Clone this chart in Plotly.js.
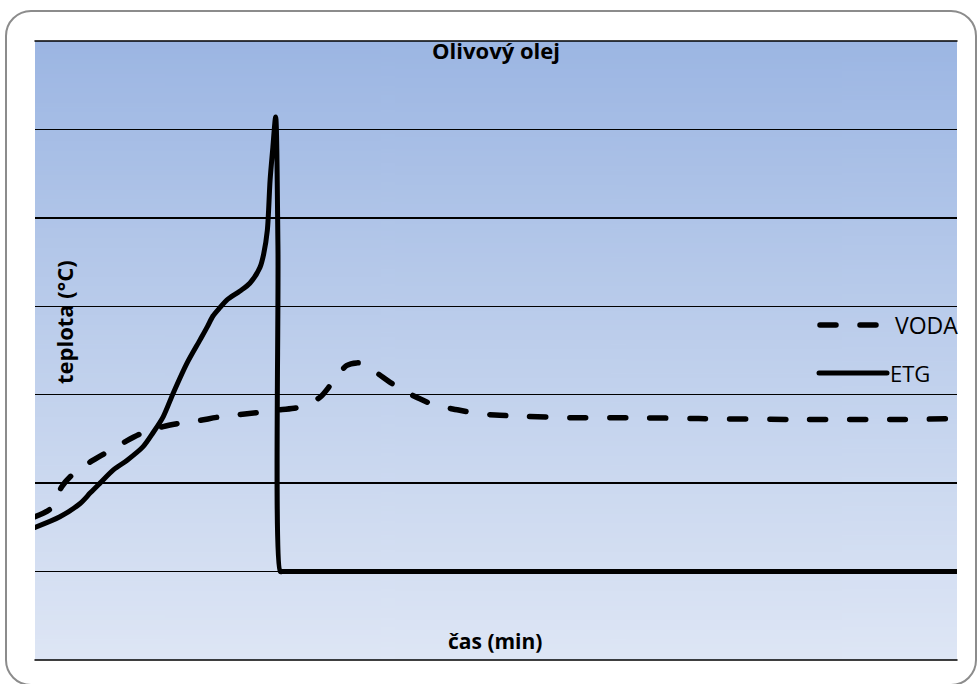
<!DOCTYPE html>
<html>
<head>
<meta charset="utf-8">
<script src="https://cdn.plot.ly/plotly-3.0.1.min.js"></script>
<style>
html,body{margin:0;padding:0;background:#fff;overflow:hidden;}
#wrap{position:relative;width:977px;height:684px;overflow:hidden;}
#frame{position:absolute;left:5px;top:10px;width:972px;height:676px;border:2px solid #8c8c8c;border-radius:26px;box-sizing:border-box;pointer-events:none;z-index:2;}
#chart{position:absolute;left:0;top:0;width:977px;height:684px;z-index:1;}
.scatterlayer path.js-line, .shapelayer path{stroke-linecap:round;stroke-linejoin:round;}
</style>
</head>
<body>
<div id="wrap"><div id="chart"></div><div id="frame"></div></div>
<script>
// ---- data (x: time in arbitrary units 0-100, y: temperature scale 0-70) ----
const chartTitle = "Olivový olej";
const xTitle = "čas (min)";
const yTitle = "teplota (°C)";
const seriesNames = ["VODA", "ETG"];

const vodaX = [0, 1.8, 2.9, 4.0, 6.0, 7.8, 9.8, 11.7, 13.9, 15.9, 17.9, 20.1, 24.4, 26.6, 28.7, 30.9, 32.2, 33.8, 34.9, 35.6, 37.7, 39.4, 41.6, 43.4, 45.8, 47.8, 49.9, 52.1, 58.3, 65.0, 72.0, 83.0, 93.8, 100];
const vodaY = [16.2, 17.2, 19.6, 20.9, 22.4, 23.5, 24.7, 25.7, 26.4, 26.8, 27.1, 27.5, 28.0, 28.3, 28.6, 29.7, 31.3, 33.3, 33.6, 33.5, 32.0, 30.8, 29.6, 28.8, 28.3, 27.9, 27.7, 27.6, 27.4, 27.4, 27.3, 27.2, 27.2, 27.3];

const etgX = [0, 2.7, 4.9, 6.0, 7.05, 8.5, 10.0, 11.7, 12.8, 13.9, 15.0, 16.5, 17.9, 18.7, 19.3, 20.1, 20.8, 22.2, 23.3, 24.4, 24.8, 25.2, 25.5, 25.8, 26.1, 26.35, 26.6, 26.8, 100];
const etgY = [15.0, 16.2, 17.7, 18.9, 20.0, 21.5, 22.6, 24.1, 25.7, 27.5, 30.2, 33.6, 36.2, 37.7, 38.9, 39.9, 40.7, 41.7, 42.6, 44.4, 45.9, 48.6, 54.3, 58.0, 61.4, 46.7, 10.0, 10.0, 10.0];

const yRange = [0, 70];
const xRange = [0, 100];

// ---- gradient background image ----
const cv = document.createElement('canvas');
cv.width = 4; cv.height = 256;
const ctx = cv.getContext('2d');
const g = ctx.createLinearGradient(0, 0, 0, 256);
g.addColorStop(0, 'rgb(156,182,227)');
g.addColorStop(0.5, 'rgb(190,207,236)');
g.addColorStop(1, 'rgb(222,230,245)');
ctx.fillStyle = g; ctx.fillRect(0, 0, 4, 256);
const bgURL = cv.toDataURL('image/png');

// plot area in pixels: left 35, right 957, top 41, bottom 660
const L = 35, R = 957, T = 41, B = 660;
const px = v => (v - L) / (R - L);
const py = v => (B - v) / (B - T);

const font = "'Open Sans', 'DejaVu Sans', sans-serif";

const traces = [
  {x: vodaX, y: vodaY, name: seriesNames[0], type: 'scatter', mode: 'lines',
   line: {color: '#000', width: 5.5, dash: '16px,24px', shape: 'spline', smoothing: 0.8}, showlegend: false, hoverinfo: 'skip'},
  {x: etgX, y: etgY, name: seriesNames[1], type: 'scatter', mode: 'lines',
   line: {color: '#000', width: 5, shape: 'spline', smoothing: 0.8}, showlegend: false, hoverinfo: 'skip'}
];

const layout = {
  width: 977, height: 684,
  margin: {l: L, r: 977 - R, t: T, b: 684 - B, pad: 0},
  paper_bgcolor: 'rgba(0,0,0,0)',
  plot_bgcolor: 'rgba(0,0,0,0)',
  title: {text: '<b>' + chartTitle + '</b>', font: {family: font, size: 22, color: '#000'},
          x: px(496), xref: 'paper', y: 1 - 51/684, yref: 'container', yanchor: 'middle', xanchor: 'center'},
  xaxis: {range: xRange, showgrid: false, zeroline: false, showline: false, showticklabels: false, ticks: ''},
  yaxis: {range: yRange, dtick: 10, tick0: 0, showgrid: true, gridcolor: '#000', gridwidth: 1.5,
          zeroline: false, showline: false, showticklabels: false, ticks: ''},
  images: [{source: bgURL, xref: 'paper', yref: 'paper', x: 0, y: 1, sizex: 1, sizey: 1,
            sizing: 'stretch', xanchor: 'left', yanchor: 'top', layer: 'below'}],
  shapes: [
    {type: 'line', xref: 'paper', yref: 'paper', x0: 0, x1: 1, y0: 1, y1: 1, line: {color: '#000', width: 1.5}},
    {type: 'line', xref: 'paper', yref: 'paper', x0: 0, x1: 1, y0: 0, y1: 0, line: {color: '#000', width: 1.5}},
    // legend samples
    {type: 'line', xref: 'paper', yref: 'paper', x0: px(820), x1: px(879), y0: py(325), y1: py(325),
     line: {color: '#000', width: 5.5, dash: '16px,24px'}},
    {type: 'line', xref: 'paper', yref: 'paper', x0: px(819), x1: px(887), y0: py(373), y1: py(373),
     line: {color: '#000', width: 5}}
  ],
  annotations: [
    {text: '<b>' + xTitle + '</b>', xref: 'paper', yref: 'paper', x: px(495), y: py(641), showarrow: false,
     xanchor: 'center', yanchor: 'middle', font: {family: font, size: 21, color: '#000'}},
    {text: '<b>' + yTitle + '</b>', xref: 'paper', yref: 'paper', x: px(64), y: py(322), showarrow: false,
     textangle: -90, xanchor: 'center', yanchor: 'middle', font: {family: font, size: 22, color: '#000'}},
    {text: seriesNames[0], xref: 'paper', yref: 'paper', x: px(893), y: py(325), showarrow: false,
     xanchor: 'left', yanchor: 'middle', font: {family: font, size: 23, color: '#000'}},
    {text: seriesNames[1], xref: 'paper', yref: 'paper', x: px(888), y: py(373), showarrow: false,
     xanchor: 'left', yanchor: 'middle', font: {family: font, size: 22, color: '#000'}}
  ]
};

Plotly.newPlot('chart', traces, layout, {staticPlot: true, displayModeBar: false});
</script>
</body>
</html>
